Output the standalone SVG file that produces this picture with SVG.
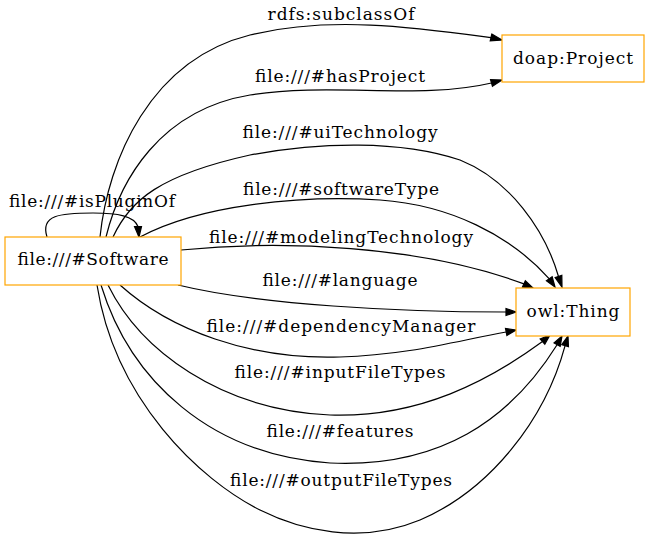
<svg xmlns="http://www.w3.org/2000/svg" width="651" height="544" viewBox="0 0 651 544">
<style>
.node rect{fill:#fff;stroke:#ffa500;stroke-width:1.2}
text{font-family:"DejaVu Serif",serif;font-size:17px;fill:#000;text-anchor:middle}
.edges path{fill:none;stroke:#000;stroke-width:1.2}
.edges polygon{fill:#000;stroke:#000;stroke-width:1.2}
</style>
<rect width="651" height="544" fill="#fff"/>
<g class="edges" id="edges">
<path d="M100,237 C108,160 150,60 250,35 C330,15 420,28 491.5,37.6"/>
<polygon points="491.78,34.09 502,40 490.22,40.91"/>
<text x="341" y="20" textLength="147" lengthAdjust="spacing">rdfs:subclassOf</text>
<path d="M106,237 C120,180 160,110 250,95 C330,82 420,100 491.5,83"/>
<polygon points="492.46,86.36 502,80 490.54,79.64"/>
<text x="340" y="82" textLength="170" lengthAdjust="spacing">file:///#hasProject</text>
<path d="M113,237 C130,200 160,175 250,155 C320,142 400,140 460,160 C510,180 545,230 558.5,276.5"/>
<polygon points="555.18,277.61 562,287 561.82,275.39"/>
<text x="340" y="138" textLength="195" lengthAdjust="spacing">file:///#uiTechnology</text>
<path d="M140,237 C200,205 300,195 380,200 C450,205 510,235 549.3,278.8"/>
<polygon points="546.43,280.8 555,287 552.17,276.8"/>
<text x="341" y="195" textLength="196" lengthAdjust="spacing">file:///#softwareType</text>
<path d="M181,250 C280,240 420,245 523.9,283.9"/>
<polygon points="522.45,287.08 533,288 525.35,280.72"/>
<text x="341" y="243" textLength="264" lengthAdjust="spacing">file:///#modelingTechnology</text>
<path d="M178,285 C260,305 400,312 506,312"/>
<polygon points="506,308.5 516,312 506,315.5"/>
<text x="340" y="286" textLength="155" lengthAdjust="spacing">file:///#language</text>
<path d="M120,285 C170,330 250,360 340,357 C410,355 460,340 506.2,332"/>
<polygon points="506.89,335.43 516,330 505.51,328.57"/>
<text x="341" y="332" textLength="269" lengthAdjust="spacing">file:///#dependencyManager</text>
<path d="M108,285 C140,350 220,410 330,415 C420,418 490,380 542.5,341.6"/>
<polygon points="544.81,344.24 550,335 540.19,338.96"/>
<text x="340" y="378" textLength="211" lengthAdjust="spacing">file:///#inputFileTypes</text>
<path d="M101,285 C130,380 210,455 330,463 C440,468 510,420 557.1,344.7"/>
<polygon points="560.16,346.4 562,336 554.04,343" />
<text x="340" y="437" textLength="147" lengthAdjust="spacing">file:///#features</text>
<path d="M97,285 C115,400 200,480 260,510 C300,530 360,545 420,520 C490,490 545,420 565.1,345.6"/>
<polygon points="568.45,346.6 568,336 561.75,344.6"/>
<text x="341" y="486" textLength="222" lengthAdjust="spacing">file:///#outputFileTypes</text>
<path d="M47,237 C40,215 60,213 93,213 C118,213 134,216 138,226.5"/>
<polygon points="134.5,226.5 139,237 141.5,226.5"/>
<text x="92" y="207" textLength="166" lengthAdjust="spacing">file:///#isPluginOf</text>
</g>
<g class="node" id="node-software">
<rect x="5" y="237" width="176" height="48"/>
<text x="93" y="265" textLength="151" lengthAdjust="spacing">file:///#Software</text>
</g>
<g class="node" id="node-project">
<rect x="502" y="35" width="142" height="47"/>
<text x="573" y="64" textLength="120" lengthAdjust="spacing">doap:Project</text>
</g>
<g class="node" id="node-thing">
<rect x="516" y="288" width="114" height="48"/>
<text x="573" y="317" textLength="93" lengthAdjust="spacing">owl:Thing</text>
</g>
</svg>
